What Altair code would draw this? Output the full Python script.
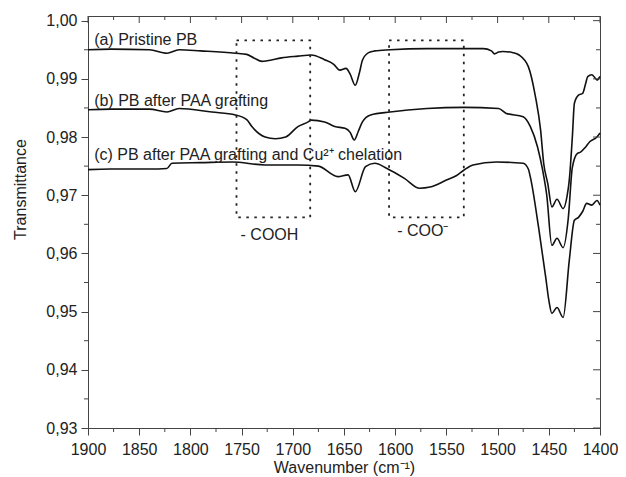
import altair as alt
import pandas as pd

# ---- spectra (wavenumber cm-1, transmittance) ----
wn_a = [1900, 1878, 1840, 1823, 1811, 1790, 1756, 1745, 1738, 1730, 1725, 1711, 1695, 1682,
        1669, 1660, 1654, 1648, 1644, 1639, 1635, 1632, 1626, 1620, 1605, 1569, 1540, 1514,
        1506, 1503, 1499, 1495, 1485, 1479, 1470, 1463, 1458, 1455, 1451, 1447, 1442, 1436,
        1432, 1430, 1427, 1425, 1421, 1417, 1414, 1412, 1408, 1405, 1403, 1400]
t_a = [0.9950, 0.9951, 0.9950, 0.9944, 0.9950, 0.9948, 0.9944, 0.9942, 0.9936, 0.9930, 0.9931,
       0.9936, 0.9939, 0.9941, 0.9933, 0.9925, 0.9915, 0.9918, 0.9908, 0.9889, 0.9910, 0.9932,
       0.9945, 0.9948, 0.9950, 0.9952, 0.9952, 0.9952, 0.9948, 0.9943, 0.9946, 0.9947, 0.9945,
       0.9941, 0.9921, 0.9869, 0.9812, 0.9755, 0.9720, 0.9680, 0.9693, 0.9677, 0.9700, 0.9726,
       0.9800, 0.9858, 0.9872, 0.9875, 0.9892, 0.9904, 0.9907, 0.9902, 0.9898, 0.9904]

wn_b = [1900, 1878, 1840, 1823, 1811, 1779, 1756, 1745, 1740, 1727, 1717, 1707, 1695, 1685,
        1682, 1669, 1659, 1649, 1644, 1640, 1636, 1632, 1624, 1605, 1569, 1533, 1499, 1492,
        1475, 1468, 1461, 1456, 1452, 1447, 1442, 1436, 1431, 1427, 1422, 1419, 1414, 1410,
        1403, 1400]
t_b = [0.9847, 0.9848, 0.9848, 0.9843, 0.9849, 0.9843, 0.9838, 0.9830, 0.9818, 0.9800, 0.9797,
       0.9800, 0.9818, 0.9826, 0.9829, 0.9826, 0.9818, 0.9815, 0.9808, 0.9795, 0.9810, 0.9826,
       0.9838, 0.9843, 0.9849, 0.9851, 0.9849, 0.9841, 0.9835, 0.9818, 0.9783, 0.9743, 0.9700,
       0.9614, 0.9626, 0.9610, 0.9660, 0.9748, 0.9772, 0.9774, 0.9783, 0.9792, 0.9800, 0.9807]

wn_c = [1900, 1878, 1840, 1823, 1818, 1790, 1759, 1727, 1695, 1675, 1656, 1646, 1639, 1629,
        1620, 1608, 1591, 1576, 1566, 1550, 1540, 1533, 1524, 1501, 1475, 1470, 1468, 1460,
        1453, 1450, 1447, 1442, 1436, 1430, 1425, 1421, 1417, 1413, 1408, 1403, 1400]
t_c = [0.9744, 0.9745, 0.9745, 0.9746, 0.9755, 0.9756, 0.9757, 0.9752, 0.9752, 0.9750, 0.9732,
       0.9735, 0.9706, 0.9749, 0.9755, 0.9746, 0.9729, 0.9712, 0.9714, 0.9726, 0.9734, 0.9743,
       0.9752, 0.9757, 0.9755, 0.9745, 0.9731, 0.9645, 0.9559, 0.9520, 0.9497, 0.9507, 0.9490,
       0.9588, 0.9657, 0.9662, 0.9672, 0.9686, 0.9683, 0.9691, 0.9683]

# ---- annotation content ----
label_text = ["(a) Pristine PB", "(b) PB after PAA grafting",
              "(c) PB after PAA grafting and Cu²⁺ chelation"]
label_wn = [1894, 1894, 1894]
label_t = [0.9967, 0.9862, 0.9769]

box_wn1 = [1755, 1606]
box_wn2 = [1683, 1533]
box_t1 = [0.9966, 0.9966]
box_t2 = [0.9662, 0.9662]

group_text = ["- COOH", "- COO⁻"]
group_wn = [1751, 1598]
group_t = [0.9631, 0.9639]

x_major = [1900, 1850, 1800, 1750, 1700, 1650, 1600, 1550, 1500, 1450, 1400]
x_minor = [1875, 1825, 1775, 1725, 1675, 1625, 1575, 1525, 1475, 1425]
y_major = [0.93, 0.94, 0.95, 0.96, 0.97, 0.98, 0.99, 1.00]
y_minor = [0.935, 0.945, 0.955, 0.965, 0.975, 0.985, 0.995]

rows = []
for name, wns, ts in (("a", wn_a, t_a), ("b", wn_b, t_b), ("c", wn_c, t_c)):
    for w, t in zip(wns, ts):
        rows.append({"series": name, "wn": w, "t": t})
df = pd.DataFrame(rows)

W, H = 512, 412
FONT = "Liberation Sans"
INK = "#222222"
AX = "#444444"

xs = alt.Scale(domain=[1400, 1900], reverse=True, nice=False, zero=False)
ys = alt.Scale(domain=[0.93, 1.0008], nice=False, zero=False)

x_axis = alt.Axis(
    values=x_major, format="d", labelOverlap=False, labelFlush=False,
    title="Wavenumber (cm⁻¹)", tickSize=7, labelPadding=6,
    titleY=39, titleX=W / 2, titleBaseline="middle", titleAlign="center")
y_axis = alt.Axis(
    values=y_major, title="Transmittance", tickSize=7, labelPadding=4,
    labelOverlap=False, labelFlush=False,
    labelExpr="replace(format(datum.value, '.2f'), '.', ',')",
    titleX=-68, titleY=173, titleAngle=270, titleBaseline="middle", titleAlign="center")

lines = alt.Chart(df).mark_line(color="#111111", strokeWidth=1.6, interpolate="monotone").encode(
    x=alt.X("wn:Q", scale=xs, axis=x_axis),
    y=alt.Y("t:Q", scale=ys, axis=y_axis),
    detail="series:N",
    order=alt.Order("wn:Q", sort="descending"),
)

boxes = alt.Chart(pd.DataFrame({"x1": box_wn1, "x2": box_wn2, "y1": box_t1, "y2": box_t2})).mark_rect(
    fillOpacity=0, stroke=INK, strokeWidth=1.8, strokeDash=[2.5, 5.5]
).encode(
    x=alt.X("x1:Q", scale=xs, axis=x_axis), x2="x2:Q",
    y=alt.Y("y1:Q", scale=ys, axis=y_axis), y2="y2:Q",
)

labels = alt.Chart(pd.DataFrame({"txt": label_text, "x": label_wn, "y": label_t})).mark_text(
    align="left", baseline="middle", font=FONT, fontSize=16, color=INK
).encode(
    x=alt.X("x:Q", scale=xs, axis=x_axis), y=alt.Y("y:Q", scale=ys, axis=y_axis), text="txt:N"
)

groups = alt.Chart(pd.DataFrame({"txt": group_text, "x": group_wn, "y": group_t})).mark_text(
    align="left", baseline="middle", font=FONT, fontSize=16, color=INK
).encode(
    x=alt.X("x:Q", scale=xs, axis=x_axis), y=alt.Y("y:Q", scale=ys, axis=y_axis), text="txt:N"
)

def xticks(vals, y0, y1):
    return alt.Chart(pd.DataFrame({"v": vals})).mark_rule(color=AX, strokeWidth=1).encode(
        x=alt.X("v:Q", scale=xs, axis=x_axis), y=alt.value(y0), y2=alt.value(y1))

def yticks(vals, x0, x1):
    return alt.Chart(pd.DataFrame({"v": vals})).mark_rule(color=AX, strokeWidth=1).encode(
        y=alt.Y("v:Q", scale=ys, axis=y_axis), x=alt.value(x0), x2=alt.value(x1))

ticks = [
    xticks(x_minor, H, H + 4),
    xticks(x_major, 0, 7),
    xticks(x_minor, 0, 4),
    yticks(y_minor, 0, -4),
    yticks(y_major, W, W - 7),
    yticks(y_minor, W, W - 4),
]

chart = alt.layer(lines, boxes, labels, groups, *ticks).properties(
    width=W, height=H,
    autosize=alt.AutoSizeParams(type="none"),
    padding={"left": 80, "top": 8, "right": 18, "bottom": 52},
).configure_view(
    stroke=AX, strokeWidth=1
).configure_axis(
    labelFont=FONT, labelFontSize=16, labelColor=INK,
    titleFont=FONT, titleFontSize=16, titleFontWeight="normal", titleColor=INK,
    tickColor=AX, domainColor=AX, grid=False,
)

chart.save("out.html", embed_options={"renderer": "svg", "actions": False})
